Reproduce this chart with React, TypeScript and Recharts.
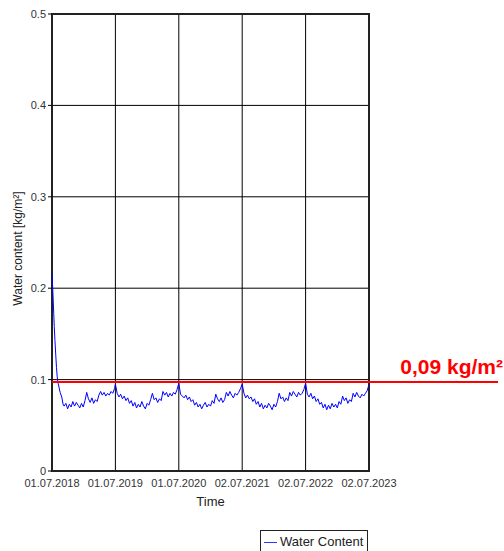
import { CartesianGrid, Line, LineChart, ReferenceArea, ReferenceLine, XAxis, YAxis } from 'recharts'

// x ticks (years since 01.07.2018)
const tickYears = [0, 1, 2, 3, 4, 5]
const tickLabels = ['01.07.2018', '01.07.2019', '01.07.2020', '02.07.2021', '02.07.2022', '02.07.2023']
const yTicks = [0, 0.1, 0.2, 0.3, 0.4, 0.5]

const limitValue = 0.0975
const limitLabel = '0,09 kg/m²'

// initial drying phase (days after start)
const decayDays = [0, 4, 7, 10, 13, 17, 21, 26, 30, 35, 40, 47, 56, 65]
const decayValues = [0.215, 0.2, 0.187, 0.172, 0.158, 0.143, 0.129, 0.113, 0.103, 0.096, 0.092, 0.086, 0.081, 0.072]

// rest of first year, every 10 days from day 70
const firstYear = [0.071, 0.074, 0.068, 0.073, 0.070, 0.076, 0.071, 0.075, 0.072, 0.069, 0.074, 0.070, 0.077, 0.086, 0.079, 0.075, 0.080, 0.074, 0.078, 0.076, 0.083, 0.087, 0.083, 0.086, 0.082, 0.085, 0.083, 0.087, 0.085, 0.090]

// following years, 36 samples each
const year2019 = [0.095, 0.085, 0.081, 0.084, 0.079, 0.082, 0.077, 0.080, 0.074, 0.077, 0.071, 0.075, 0.069, 0.073, 0.070, 0.076, 0.071, 0.068, 0.074, 0.072, 0.078, 0.085, 0.078, 0.080, 0.075, 0.079, 0.077, 0.087, 0.083, 0.086, 0.081, 0.085, 0.082, 0.086, 0.084, 0.089]
const year2020 = [0.096, 0.084, 0.082, 0.080, 0.083, 0.078, 0.081, 0.076, 0.078, 0.072, 0.075, 0.070, 0.073, 0.068, 0.072, 0.075, 0.070, 0.073, 0.071, 0.077, 0.074, 0.084, 0.079, 0.076, 0.080, 0.075, 0.078, 0.086, 0.082, 0.087, 0.083, 0.080, 0.085, 0.083, 0.086, 0.090]
const year2021 = [0.095, 0.085, 0.080, 0.083, 0.079, 0.081, 0.076, 0.079, 0.073, 0.076, 0.070, 0.074, 0.068, 0.072, 0.069, 0.074, 0.071, 0.067, 0.073, 0.070, 0.076, 0.085, 0.079, 0.081, 0.076, 0.080, 0.077, 0.086, 0.082, 0.087, 0.084, 0.081, 0.086, 0.083, 0.085, 0.089]
const year2022 = [0.096, 0.084, 0.081, 0.085, 0.079, 0.082, 0.076, 0.079, 0.073, 0.075, 0.069, 0.073, 0.067, 0.072, 0.068, 0.074, 0.070, 0.073, 0.069, 0.076, 0.073, 0.082, 0.077, 0.080, 0.074, 0.078, 0.076, 0.085, 0.081, 0.086, 0.082, 0.080, 0.084, 0.082, 0.085, 0.088]
const lastValue = 0.095

const buildData = () => {
  const pts: { t: number; wc: number }[] = []
  decayDays.forEach((d, i) => pts.push({ t: d / 365.25, wc: decayValues[i] }))
  firstYear.forEach((v, i) => pts.push({ t: (70 + i * 10) / 365.25, wc: v }))
  ;[year2019, year2020, year2021, year2022].forEach((arr, y) => {
    arr.forEach((v, k) => pts.push({ t: y + 1 + k / arr.length, wc: v }))
  })
  pts.push({ t: 5, wc: lastValue })
  return pts
}

const data = buildData()
const font = '"Liberation Sans", Arial, sans-serif'

const YLabel = (props: any) => {
  const vb = props.viewBox
  const x = vb.x + 6
  const y = vb.y + vb.height / 2 + 6
  return (
    <text x={x} y={y} transform={`rotate(-90 ${x} ${y})`} textAnchor="middle" dominantBaseline="central"
      fontSize={12} fill="#222" fontFamily={font}>
      Water content [kg/m²]
    </text>
  )
}

const LimitLine = (p: any) => (
  <line x1={p.x1} y1={p.y1} x2={p.x2 + 129} y2={p.y2} stroke="#ff0000" strokeWidth={2} />
)

const LimitLabel = (props: any) => {
  const vb = props.viewBox
  return (
    <text x={vb.x + vb.width + 134} y={vb.y - 8} textAnchor="end" fontSize={21} fontWeight="bold"
      fill="#ff0000" fontFamily={font}>
      {limitLabel}
    </text>
  )
}

export default function App() {
  return (
    <div style={{ position: 'absolute', left: 0, top: 0, width: 504, height: 551, background: '#fff', overflow: 'hidden' }}>
      <LineChart width={504} height={551} data={data} margin={{ top: 14, right: 135, left: 12, bottom: 45 }}>
        <CartesianGrid stroke="#000" strokeWidth={1} />
        <XAxis dataKey="t" type="number" domain={[0, 5]} ticks={tickYears} tickFormatter={(v: number) => tickLabels[tickYears.indexOf(v)]}
          tickLine={false} axisLine={false} height={35} interval={0}
          tick={{ fontSize: 11, fill: '#333', fontFamily: font }}
          label={{ value: 'Time', position: 'insideBottom', offset: 0, fontSize: 13, fill: '#222', fontFamily: font }} />
        <YAxis type="number" domain={[0, 0.5]} ticks={yTicks} width={40} tickSize={4} axisLine={false}
          tickLine={{ stroke: '#000' }} tick={{ fontSize: 11, fill: '#333', fontFamily: font }}
          label={YLabel} />
        <ReferenceArea x1={0} x2={5} y1={0} y2={0.5} fill="none" stroke="#222" strokeWidth={2} />
        <Line type="linear" dataKey="wc" stroke="#0000ff" strokeWidth={1} dot={false} isAnimationActive={false} />
        <ReferenceLine y={limitValue} shape={LimitLine} label={LimitLabel} />
      </LineChart>
      <div style={{ position: 'absolute', left: 260, top: 530, width: 108, height: 30, border: '1px solid #222', padding: '3px 0 0 3px',
        display: 'flex', alignItems: 'flex-start', whiteSpace: 'nowrap', fontFamily: font, fontSize: 13, lineHeight: '15px',
        color: '#222', background: '#fff', boxSizing: 'border-box' }}>
        <span style={{ display: 'inline-block', width: 13, height: 1, background: '#3333ff', marginRight: 3, marginTop: 8 }} />
        Water Content
      </div>
    </div>
  )
}
